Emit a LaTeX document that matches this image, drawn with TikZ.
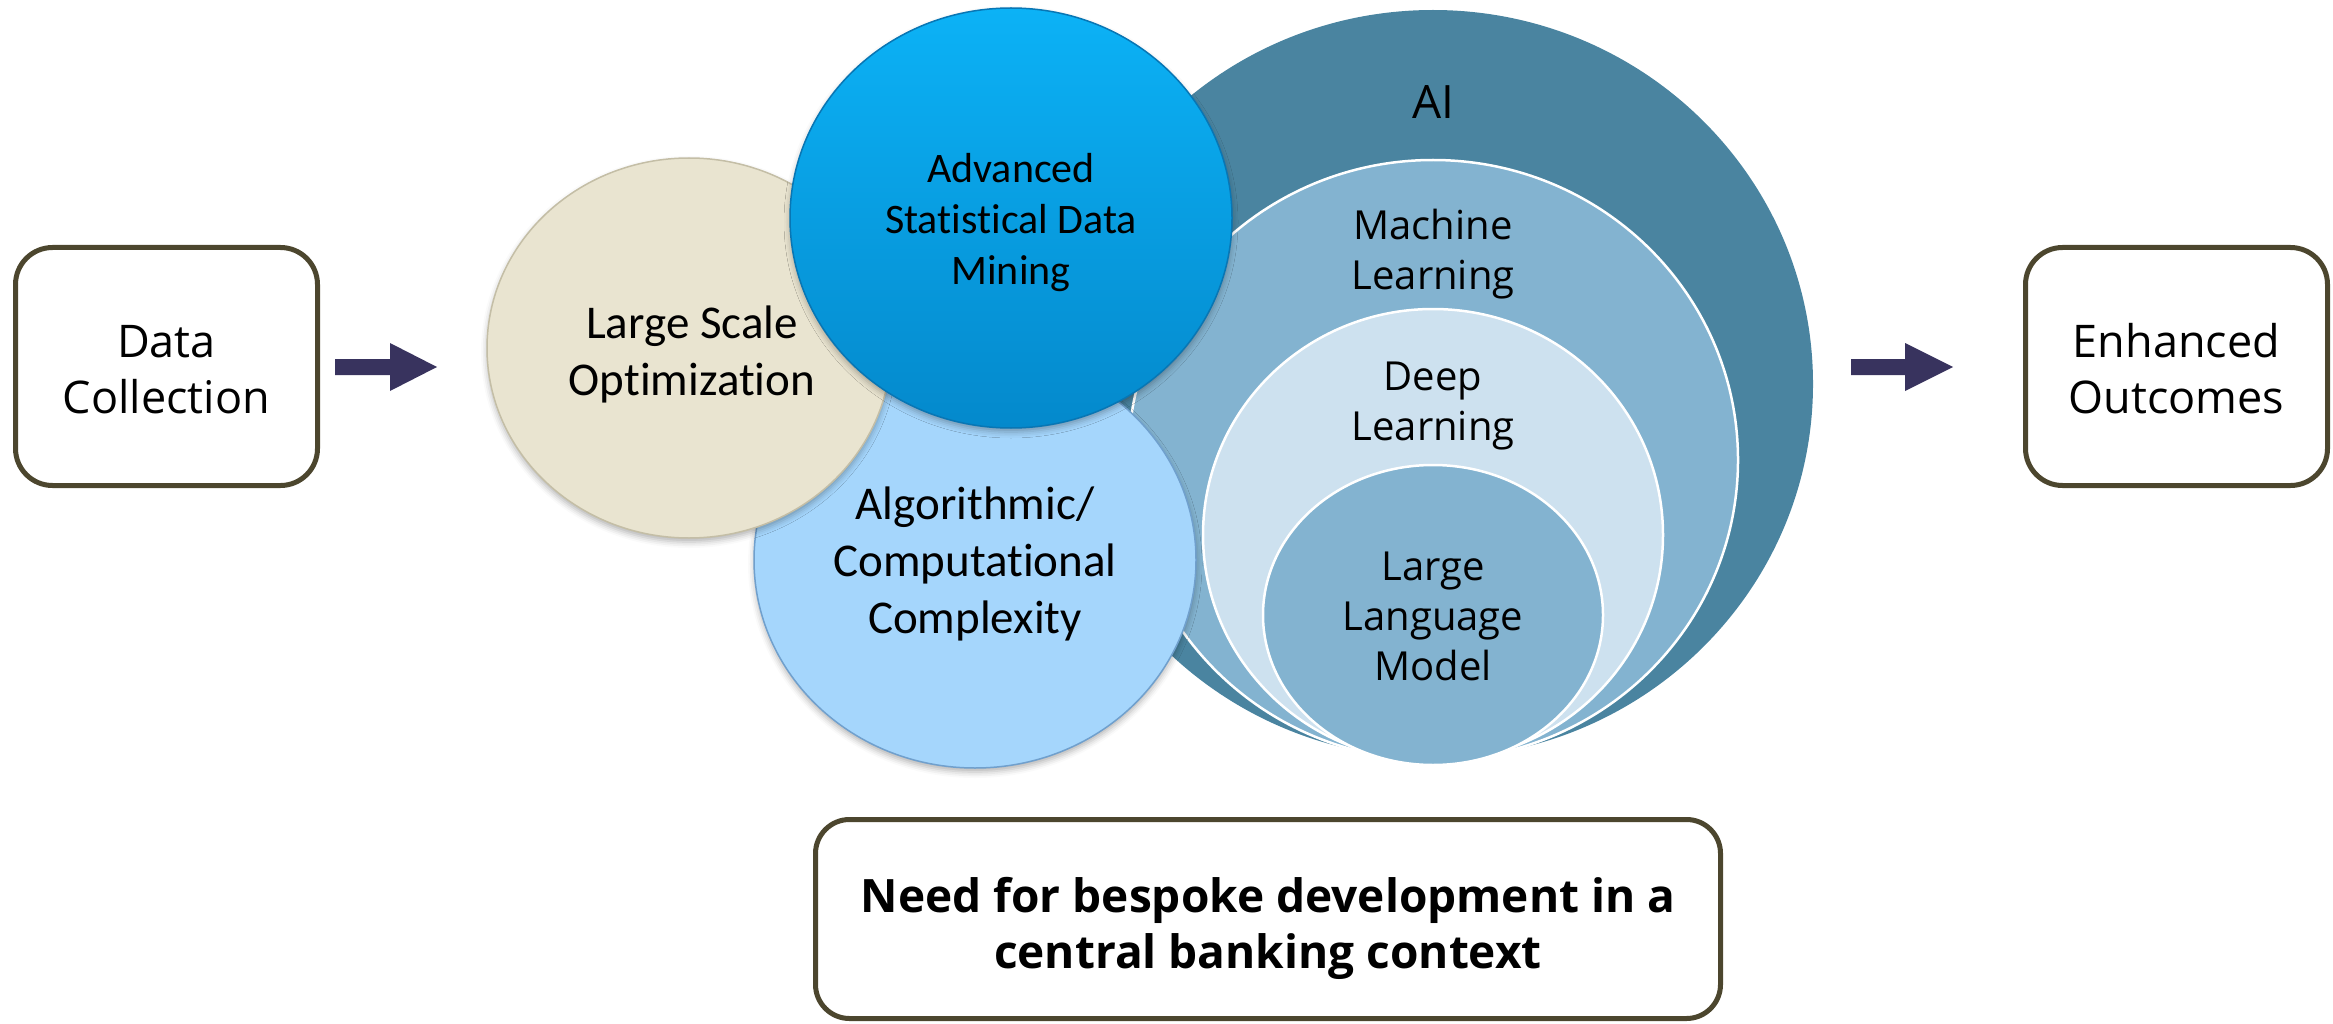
\documentclass[tikz,border=0pt]{standalone}
\usepackage{fontspec}
\setmainfont{Open Sans}
\newfontfamily\calfont[Ligatures=NoCommon]{Carlito}
\usetikzlibrary{shapes.geometric,shadows.blur}

\definecolor{frame}{RGB}{76,70,46}
\definecolor{arrowc}{RGB}{56,51,94}
\definecolor{aiblue}{RGB}{74,132,160}
\definecolor{mlblue}{RGB}{131,179,208}
\definecolor{dlblue}{RGB}{205,225,239}
\definecolor{lsofill}{RGB}{233,228,208}
\definecolor{lsoedge}{RGB}{196,190,166}
\definecolor{asdmtop}{RGB}{12,178,246}
\definecolor{asdmbot}{RGB}{4,137,204}
\definecolor{asdmedge}{RGB}{8,118,180}
\definecolor{accfill}{RGB}{165,214,252}
\definecolor{accedge}{RGB}{112,160,205}

% centred lines whose anchor is the baseline of the first line
\newcommand\txtblock[1]{\begin{tabular}[t]{@{}c@{}}#1\end{tabular}}

\begin{document}
\begin{tikzpicture}[x=1pt,y=-1pt,
  roundbox/.style={draw=frame, line width=5pt, rounded corners=37pt, fill=white, inner sep=0pt},
  disc/.style={ellipse, inner sep=0pt},
  nested/.style={disc, fill=#1, draw=white, line width=2.5pt},
  softshadow/.style={blur shadow={shadow xshift=0pt, shadow yshift=-4pt, shadow blur radius=6pt, shadow opacity=30}},
  txt/.style={anchor=base, inner sep=0pt},
  boxfont/.style={font=\fontsize{45}{56}\selectfont},
  aifont/.style={font=\fontsize{40}{50}\selectfont},
  blockarrow/.style={fill=arrowc},
]
\useasboundingbox (0,0) rectangle (2333,1024);

% ---- input and output boxes
\node[roundbox, minimum width=302pt, minimum height=238pt] (collect) at (166.5,366.5) {};
\node[txt, boxfont] (collectText) at (166.5,357) {\txtblock{Data\\Collection}};

\node[roundbox, minimum width=302pt, minimum height=238pt] (outcome) at (2176.5,366.5) {};
\node[txt, boxfont] (outcomeText) at (2176.5,357) {\txtblock{Enhanced\\Outcomes}};

% ---- block arrows
\coordinate (a1) at (335,367);
\coordinate (a2) at (1851,367);
\fill[blockarrow] (a1) ++(0,-8) -- ++(55,0) -- ++(0,-16) -- ++(47,24) -- ++(-47,24) -- ++(0,-16) -- ++(-55,0) -- cycle;
\fill[blockarrow] (a2) ++(0,-8) -- ++(54,0) -- ++(0,-16) -- ++(48,24) -- ++(-48,24) -- ++(0,-16) -- ++(-54,0) -- cycle;

% ---- nested AI circles
\node[disc, fill=aiblue, minimum width=760pt, minimum height=748pt] (ai) at (1433,384) {};
\node[nested=mlblue, minimum width=610pt, minimum height=600pt] (ml) at (1433,460) {};
\node[nested=dlblue, minimum width=460pt, minimum height=452pt] (dl) at (1433,535) {};
\node[nested=mlblue, minimum width=340pt, minimum height=300pt] (llm) at (1433,615) {};

\node[txt, font=\fontsize{46}{56}\selectfont] (aiText) at (1433,119) {AI};
\node[txt, aifont] (mlText) at (1433,240) {\txtblock{Machine\\Learning}};
\node[txt, aifont] (dlText) at (1433,390) {\txtblock{Deep\\Learning}};
\node[txt, aifont] (llmText) at (1433,580) {\txtblock{Large\\Language\\Model}};

% ---- overlapping discipline circles
\node[disc, softshadow, fill=accfill, draw=accedge, line width=1.5pt,
      minimum width=442pt, minimum height=416pt] (acc) at (975,560) {};
\node[disc, softshadow, fill=lsofill, draw=lsoedge, line width=1.5pt,
      minimum width=404pt, minimum height=380pt] (lso) at (689,348) {};
\node[disc, softshadow, top color=asdmtop, bottom color=asdmbot, draw=asdmedge, line width=1.5pt,
      minimum width=442pt, minimum height=420pt] (asdm) at (1011,218) {};

\node[txt, font=\calfont\fontsize{47}{57}\selectfont] (accText) at (975,519)
  {\txtblock{Algorithmic/\\Computational\\Complexity}};
\node[txt, font=\calfont\fontsize{47}{57}\selectfont] (lsoText) at (692,338)
  {\txtblock{Large Scale\\Optimization}};
\node[txt, font=\calfont\fontsize{42}{51}\selectfont] (asdmText) at (1011,183)
  {\txtblock{Advanced\\Statistical Data\\Mining}};

% ---- bottom statement
\node[roundbox, rounded corners=34pt, minimum width=905pt, minimum height=199pt] (need) at (1268,919) {};
\node[txt, font=\bfseries\fontsize{46}{56}\selectfont] (needText) at (1268,912)
  {\txtblock{Need for bespoke development in a\\central banking context}};
\end{tikzpicture}
\end{document}
